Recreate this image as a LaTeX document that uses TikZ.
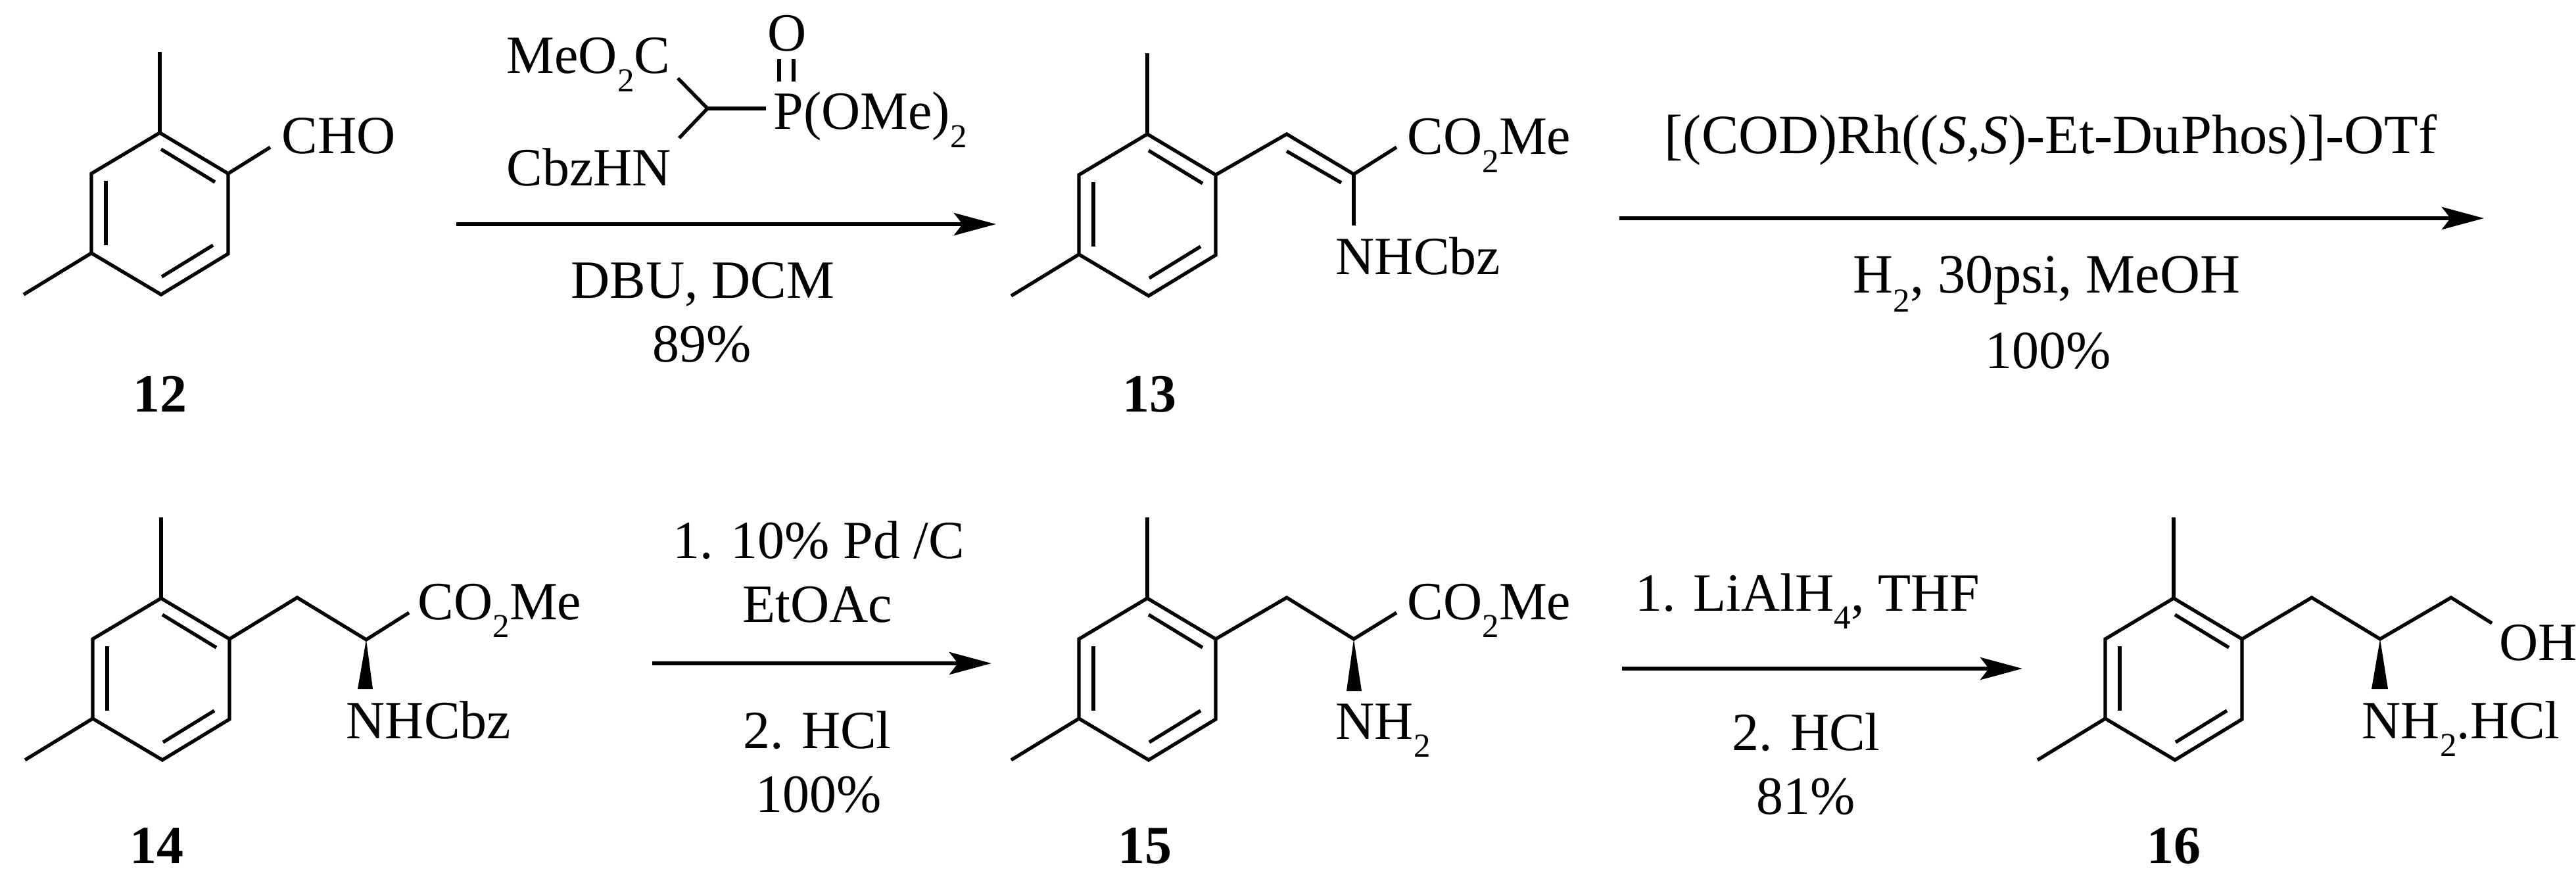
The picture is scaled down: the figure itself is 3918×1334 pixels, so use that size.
\documentclass[tikz,border=0pt]{standalone}
\usepackage{fontspec}
\setmainfont{Liberation Serif}
\usetikzlibrary{arrows.meta}
\newcommand{\sbs}[1]{\raisebox{-0.34em}{\fontsize{14.5}{15}\selectfont #1}}

\begin{document}
\begin{tikzpicture}[
  x=0.01cm, y=-0.01cm,
  bond/.style={line width=1.5pt, line join=miter, line cap=butt},
  arr/.style={-{Stealth[length=0.64cm, width=0.34cm, inset=0.13cm]},
              line width=1.8pt},
  wedge/.style={fill=black, draw=none},
  lbl/.style={font=\fontsize{23.3}{26}\selectfont, anchor=base west, inner sep=0pt},
  rgt/.style={font=\fontsize{23.3}{26}\selectfont, anchor=base, inner sep=0pt},
  wide/.style={rgt, font=\fontsize{24}{26}\selectfont},
  num/.style={font=\fontsize{23.3}{26}\selectfont\bfseries, anchor=base, inner sep=0pt},
  xylene/.pic={
    \coordinate (-t) at (0,0);
    \coordinate (-rt) at (104,62);
    \coordinate (-rb) at (104,184);
    \coordinate (-b) at (2,246);
    \coordinate (-lb) at (-104,183);
    \coordinate (-lt) at (-104,62);
    \draw[bond] (-t) -- (-rt) -- (-rb) -- (-b) -- (-lb) -- (-lt) -- cycle;
    \draw[bond] (-t) -- (0,-123);
    \draw[bond] (-lb) -- (-207,246);
    \draw[bond] (2,25) -- (84,75);
    \draw[bond] (-82,73) -- (-82,171);
    \draw[bond] (81,171) -- (3,219);
  }
]
\useasboundingbox (0,0) rectangle (3918,1334);
% Rings
\pic (m12) at (243,202) {xylene};
\pic (m13) at (1745,204) {xylene};
\pic (m14) at (245,910) {xylene};
\pic (m15) at (1745,910) {xylene};
\pic (m16) at (3306,910) {xylene};
% 12
\node[lbl] (cho) at (428,234) {CHO};
\draw[bond] (m12-rt) -- (411,224);
\node[num] (n12) at (243,627) {12};
% Phosphonate
\coordinate (pc) at (1076,165);
\node[lbl] (pest) at (770,112) {MeO\sbs{2}C};
\node[lbl] (pcbz) at (770,283) {CbzHN};
\node[lbl] (pp) at (1176,197) {P(OMe)\sbs{2}};
\node[rgt] (po) at (1197,78) {O};
\draw[bond] (1031,119) -- (pc) -- (1033,210);
\draw[bond] (pc) -- (1165,165);
\draw[bond] (1185,90) -- (1185,124);
\draw[bond] (1207,90) -- (1207,124);
% Arrow 1
\coordinate (a1s) at (694,341);
\coordinate (a1e) at (1515,341);
\draw[arr] (a1s) -- (a1e);
\node[rgt] (r1a) at (1069,454) {DBU, DCM};
\node[rgt] (r1b) at (1068,551) {89\%};
% 13
\coordinate (v13a) at (1957,204);
\coordinate (v13b) at (2059,265);
\draw[bond] (m13-rt) -- (v13a) -- (v13b) -- (2124,224);
\draw[bond] (v13b) -- (2059,343);
\draw[bond] (1957,230) -- (2040,278);
\node[lbl] (est13) at (2140,235) {CO\sbs{2}Me};
\node[lbl] (nh13) at (2031,418) {NHCbz};
\node[num] (n13) at (1748,627) {13};
% Arrow 2
\coordinate (a2s) at (2463,332);
\coordinate (a2e) at (3778,332);
\draw[arr] (a2s) -- (a2e);
\node[wide] (r2a) at (3119,234) {[(COD)Rh((\textit{S,S})-Et-DuPhos)]-OTf};
\node[wide] (r2b) at (3113,446) {H\sbs{2}, 30psi, MeOH};
\node[rgt] (r2c) at (3115,561) {100\%};
% 14
\coordinate (c14a) at (452,909);
\coordinate (c14b) at (557,973);
\draw[bond] (m14-rt) -- (c14a) -- (c14b) -- (622,932);
\fill[wedge] (c14b) -- (567,1048) -- (544,1048) -- cycle;
\node[lbl] (est14) at (635,942) {CO\sbs{2}Me};
\node[lbl] (nh14) at (526,1123) {NHCbz};
\node[num] (n14) at (238,1313) {14};
% Arrow 3
\coordinate (a3s) at (992,1009);
\coordinate (a3e) at (1508,1009);
\draw[arr] (a3s) -- (a3e);
\node[rgt] (r3a) at (1245,849) {1. 10\% Pd /C};
\node[rgt] (r3b) at (1243,946) {EtOAc};
\node[rgt] (r3c) at (1243,1138) {2. HCl};
\node[rgt] (r3d) at (1245,1235) {100\%};
% 15
\coordinate (c15a) at (1957,909);
\coordinate (c15b) at (2059,972);
\draw[bond] (m15-rt) -- (c15a) -- (c15b) -- (2124,932);
\fill[wedge] (c15b) -- (2071,1051) -- (2048,1051) -- cycle;
\node[lbl] (est15) at (2140,942) {CO\sbs{2}Me};
\node[lbl] (nh15) at (2031,1124) {NH\sbs{2}};
\node[num] (n15) at (1741,1313) {15};
% Arrow 4
\coordinate (a4s) at (2467,1017);
\coordinate (a4e) at (3076,1017);
\draw[arr] (a4s) -- (a4e);
\node[rgt] (r4a) at (2749,929) {1. LiAlH\sbs{4}, THF};
\node[rgt] (r4b) at (2747,1141) {2. HCl};
\node[rgt] (r4c) at (2747,1238) {81\%};
% 16
\coordinate (c16a) at (3516,909);
\coordinate (c16b) at (3620,972);
\coordinate (c16c) at (3728,909);
\draw[bond] (m16-rt) -- (c16a) -- (c16b) -- (c16c) -- (3790,948);
\fill[wedge] (c16b) -- (3632,1048) -- (3607,1048) -- cycle;
\node[lbl] (oh16) at (3801,1004) {OH};
\node[lbl] (nh16) at (3592,1123) {NH\sbs{2}.HCl};
\node[num] (n16) at (3306,1313) {16};
\end{tikzpicture}
\end{document}
